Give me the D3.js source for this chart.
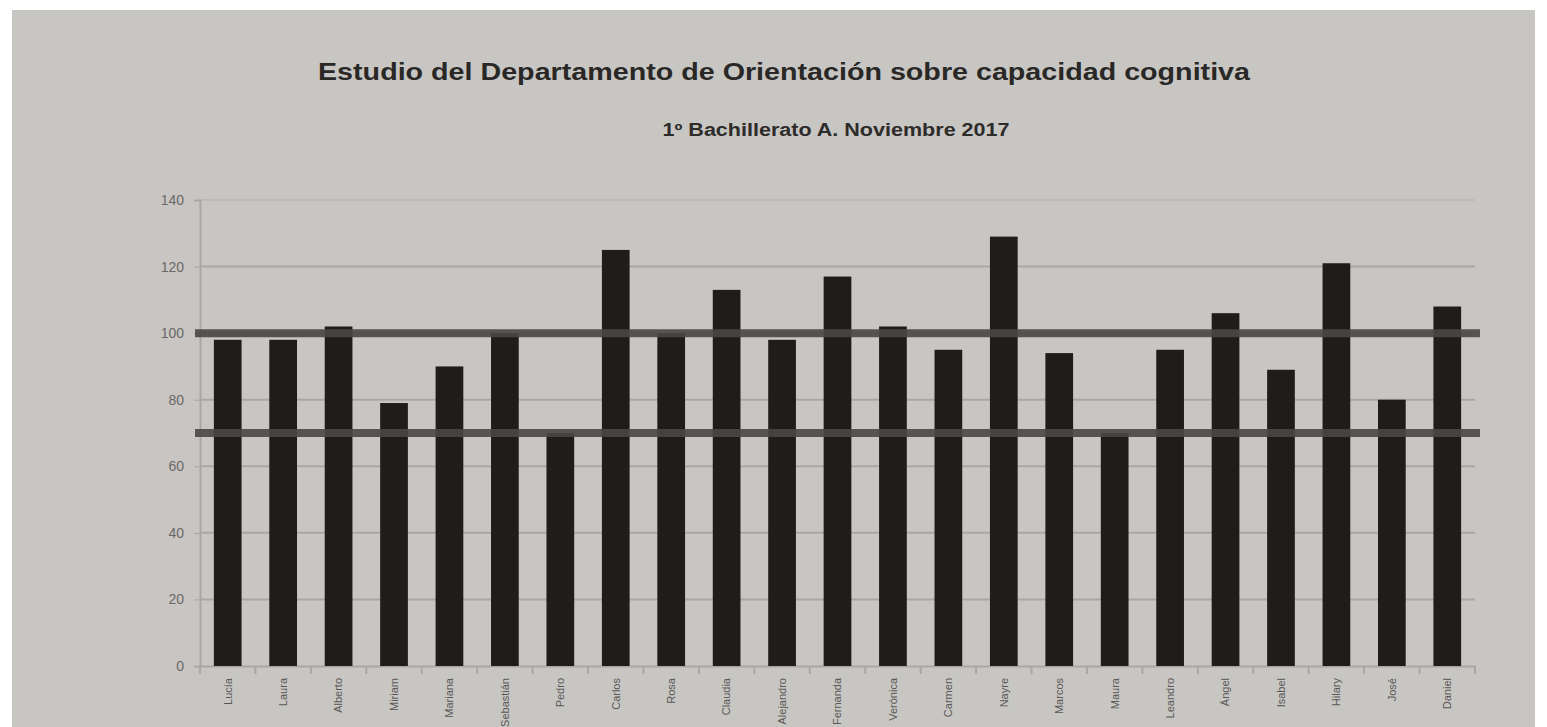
<!DOCTYPE html>
<html>
<head>
  <title>Estudio capacidad cognitiva</title>
  <script src="https://d3js.org/d3.v7.min.js"></script>
  <style>
    body { margin: 0; background: #ffffff; }
    .chart text { font-family: "Liberation Sans Narrow", "Arial Narrow", "Liberation Sans", Arial, sans-serif; }
    .title { font-size: 23px; font-weight: bold; fill: #2a2826; }
    .subtitle { font-size: 18px; font-weight: bold; fill: #2e2c2a; }
    .axis-label { font-size: 14px; fill: #6a6866; }
    .name-label { font-size: 11px; fill: #5a5856; }
  </style>
</head>
<body>
  <svg class="chart" width="1547" height="727"></svg>

  <script>
    // Alumnos (names are partly cut by the bottom edge of the photo)
    const names = ["Lucía", "Laura", "Alberto", "Miriam", "Mariana", "Sebastián", "Pedro", "Carlos",
      "Rosa", "Claudia", "Alejandro", "Fernanda", "Verónica", "Carmen", "Nayre", "Marcos",
      "Maura", "Leandro", "Ángel", "Isabel", "Hilary", "José", "Daniel"];
    const scores = [98, 98, 102, 79, 90, 100, 70, 125, 100, 113, 98, 117, 102, 95, 129, 94,
      70, 95, 106, 89, 121, 80, 108];
    const yTicks = [0, 20, 40, 60, 80, 100, 120, 140];
    const refLines = [100, 70];

    const svg = d3.select("svg");
    const margin = { top: 200, left: 200, right: 72, bottom: 61 };
    const width = +svg.attr("width");
    const height = +svg.attr("height");
    const innerWidth = width - margin.left - margin.right;
    const innerHeight = height - margin.top - margin.bottom;

    // photo paper
    svg.append("rect")
      .attr("x", 12).attr("y", 10)
      .attr("width", 1523).attr("height", 717)
      .attr("fill", "#c8c6c3");

    svg.append("text").attr("class", "title")
      .attr("x", 784).attr("y", 80)
      .attr("text-anchor", "middle")
      .attr("textLength", 932).attr("lengthAdjust", "spacingAndGlyphs")
      .text("Estudio del Departamento de Orientación sobre capacidad cognitiva");

    svg.append("text").attr("class", "subtitle")
      .attr("x", 836).attr("y", 136)
      .attr("text-anchor", "middle")
      .attr("textLength", 347).attr("lengthAdjust", "spacingAndGlyphs")
      .text("1º Bachillerato A. Noviembre 2017");

    const x = d3.scaleBand()
      .domain(d3.range(names.length))
      .range([0, innerWidth])
      .paddingInner(0.5)
      .paddingOuter(0.25);

    const y = d3.scaleLinear()
      .domain([0, 140])
      .range([innerHeight, 0]);

    const chart = svg.append("g")
      .attr("transform", `translate(${margin.left}, ${margin.top})`);

    // gridlines
    chart.selectAll(".grid")
      .data(yTicks.filter(d => d > 0))
      .enter().append("line")
      .attr("x1", 0).attr("x2", innerWidth)
      .attr("y1", d => y(d)).attr("y2", d => y(d))
      .attr("stroke", d => d === 140 ? "#bdbbb8" : "#a9a7a4")
      .attr("stroke-width", 2);

    // y axis
    const yAxis = chart.append("g")
      .call(d3.axisLeft(y).tickValues(yTicks).tickSize(6).tickPadding(10));
    yAxis.select(".domain").attr("stroke", "#a9a7a4").attr("stroke-width", 2);
    yAxis.selectAll(".tick line").attr("stroke", "#a9a7a4");
    yAxis.selectAll(".tick text").attr("class", "axis-label");

    // x axis
    const xAxis = chart.append("g")
      .attr("transform", `translate(0, ${innerHeight})`)
      .call(d3.axisBottom(x).tickSize(0).tickPadding(0).tickFormat(i => names[i]));
    xAxis.select(".domain").attr("stroke", "#a9a7a4").attr("stroke-width", 2);
    xAxis.selectAll(".tick text")
      .attr("class", "name-label")
      .attr("transform", "rotate(-90)")
      .attr("x", -12).attr("y", 0).attr("dy", "0.35em")
      .attr("text-anchor", "end");

    // small separators between categories
    chart.selectAll(".sep")
      .data(d3.range(names.length + 1))
      .enter().append("line")
      .attr("x1", i => x.step() * i)
      .attr("x2", i => x.step() * i)
      .attr("y1", innerHeight).attr("y2", innerHeight + 8)
      .attr("stroke", "#a9a7a4").attr("stroke-width", 2);

    // bars
    chart.selectAll(".bar")
      .data(scores)
      .enter().append("rect")
      .attr("x", (d, i) => x(i))
      .attr("y", d => y(d))
      .attr("width", x.bandwidth())
      .attr("height", d => innerHeight - y(d))
      .attr("fill", "#1f1d1c");

    // reference lines
    chart.selectAll(".ref")
      .data(refLines)
      .enter().append("line")
      .attr("x1", -5).attr("x2", innerWidth + 5)
      .attr("y1", d => y(d)).attr("y2", d => y(d))
      .attr("stroke", "#4a4846")
      .attr("stroke-width", 8)
      .attr("opacity", 0.9);
  </script>
</body>
</html>
